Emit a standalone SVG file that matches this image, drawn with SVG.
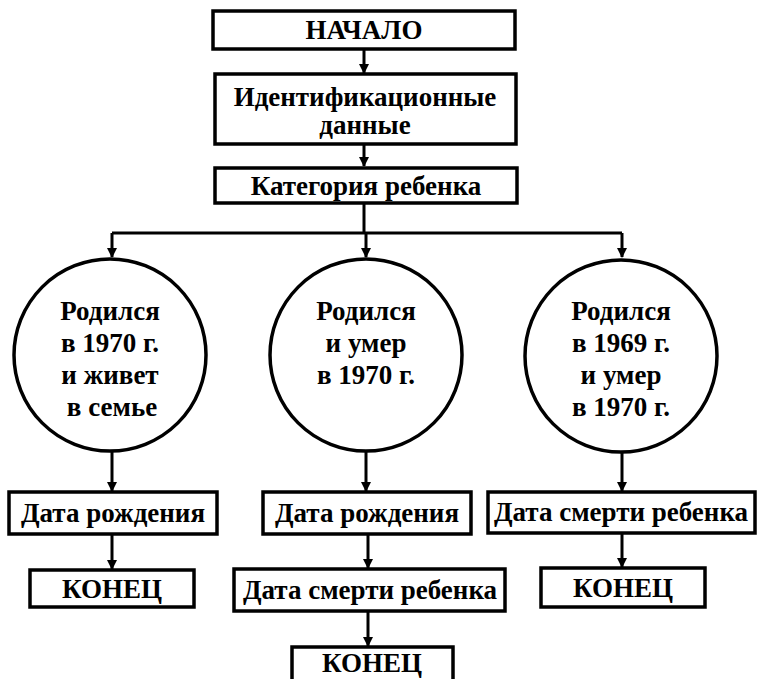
<svg xmlns="http://www.w3.org/2000/svg" width="758" height="679" viewBox="0 0 758 679">
<style>
.b{fill:#fff;stroke:#000;stroke-width:3.5}
.t{font-family:"Liberation Serif","DejaVu Serif",serif;font-size:27px;font-weight:bold;text-anchor:middle;fill:#000}
.c{fill:none;stroke:#000;stroke-width:3}
</style>
<defs>
<marker id="ah" markerWidth="10" markerHeight="12" refX="9" refY="5" orient="auto" markerUnits="userSpaceOnUse">
<path d="M0,0 L10,5 L0,10 Z" fill="#000"/>
</marker>
</defs>
<rect width="758" height="679" fill="#fff"/>
<g id="connectors">
<path class="c" d="M364,50 V73" marker-end="url(#ah)"/>
<path class="c" d="M364,144 V166" marker-end="url(#ah)"/>
<path class="c" d="M364,203 V233"/>
<path class="c" d="M112,233 H622"/>
<path class="c" d="M112,233 V257" marker-end="url(#ah)"/>
<path class="c" d="M366,233 V257" marker-end="url(#ah)"/>
<path class="c" d="M622,233 V257" marker-end="url(#ah)"/>
<path class="c" d="M112,452 V491" marker-end="url(#ah)"/>
<path class="c" d="M366,452 V491" marker-end="url(#ah)"/>
<path class="c" d="M622,452 V491" marker-end="url(#ah)"/>
<path class="c" d="M112,534 V569" marker-end="url(#ah)"/>
<path class="c" d="M368,534 V568" marker-end="url(#ah)"/>
<path class="c" d="M622,533 V567" marker-end="url(#ah)"/>
<path class="c" d="M368,611 V646" marker-end="url(#ah)"/>
</g>
<g id="start"><rect class="b" x="213" y="11" width="302" height="38"/><text class="t" x="364" y="39">НАЧАЛО</text></g>
<g id="ident"><rect class="b" x="215" y="74" width="301" height="70"/><text class="t" x="365" y="106">Идентификационные</text><text class="t" x="365" y="134">данные</text></g>
<g id="category"><rect class="b" x="215" y="168" width="302" height="35"/><text class="t" x="366" y="195">Категория ребенка</text></g>
<g id="c1"><circle class="b" cx="110" cy="355" r="96"/><text class="t" x="110" y="320">Родился</text><text class="t" x="110" y="352">в 1970 г.</text><text class="t" x="110" y="384">и живет</text><text class="t" x="112" y="416">в семье</text></g>
<g id="c2"><circle class="b" cx="366" cy="355" r="96"/><text class="t" x="366" y="320">Родился</text><text class="t" x="366" y="352">и умер</text><text class="t" x="366" y="384">в 1970 г.</text></g>
<g id="c3"><circle class="b" cx="621" cy="356" r="96"/><text class="t" x="621" y="320">Родился</text><text class="t" x="621" y="352">в 1969 г.</text><text class="t" x="621" y="384">и умер</text><text class="t" x="621" y="416">в 1970 г.</text></g>
<g id="birth1"><rect class="b" x="9" y="492" width="208" height="42"/><text class="t" x="113" y="522">Дата рождения</text></g>
<g id="end1"><rect class="b" x="30" y="570" width="164" height="37"/><text class="t" x="112" y="598">КОНЕЦ</text></g>
<g id="birth2"><rect class="b" x="263" y="492" width="208" height="42"/><text class="t" x="367" y="522">Дата рождения</text></g>
<g id="death2"><rect class="b" x="234" y="569" width="271" height="42"/><text class="t" x="370" y="599">Дата смерти ребенка</text></g>
<g id="end2"><rect class="b" x="292" y="647" width="161" height="40"/><text class="t" x="372" y="672">КОНЕЦ</text></g>
<g id="death3"><rect class="b" x="488" y="492" width="267" height="41"/><text class="t" x="621" y="521">Дата смерти ребенка</text></g>
<g id="end3"><rect class="b" x="541" y="568" width="164" height="39"/><text class="t" x="623" y="597">КОНЕЦ</text></g>
</svg>
